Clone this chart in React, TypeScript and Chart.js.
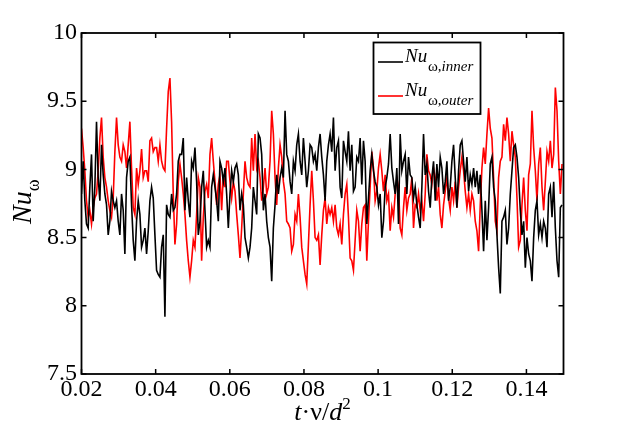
import { useEffect, useRef } from 'react';
import { Chart, registerables } from 'chart.js';

Chart.register(...registerables);

// sampling of the signal: t = T_START + i * T_STEP
const T_START = 0.02;
const T_STEP = 0.00045;

// Nu_ω at the inner wall (black)
const nuInner = [
  8.82, 9.06, 8.77, 8.60, 8.57, 8.87, 9.11, 8.62, 8.87, 9.35, 8.94, 8.77, 9.18, 8.96, 8.82, 8.74,
  8.52, 8.62, 8.84, 8.77, 8.72, 8.77, 8.62, 8.52, 8.82, 8.70, 8.38, 8.94, 9.06, 9.09, 8.74, 8.48,
  8.33, 8.62, 8.77, 8.67, 8.43, 8.48, 8.57, 8.38, 8.55, 8.77, 8.87, 8.79, 8.52, 8.26, 8.23,
  8.21, 8.43, 8.52, 7.92, 8.74, 8.67, 8.65, 8.82, 8.70, 8.72, 8.82, 9.06, 9.11, 9.11, 9.23, 8.70,
  8.94, 8.77, 8.65, 9.06, 9.01, 9.16, 8.91, 8.52, 8.62, 8.87, 8.99, 8.70, 8.43, 8.48, 8.43, 8.87,
  8.96, 8.87, 8.77, 8.62, 9.06, 9.01, 8.91, 9.01, 8.82, 8.57, 8.82, 8.99, 8.91, 9.01, 9.04, 8.96,
  8.70, 8.82, 8.74, 8.50, 8.43, 8.35, 8.43, 8.57, 8.87, 8.77, 8.67, 9.26, 9.23, 9.11, 8.70, 8.82,
  8.62, 8.50, 8.43, 8.18, 8.57, 8.74, 8.96, 8.82, 8.94, 9.01, 8.94, 9.43, 9.11, 9.06, 8.91, 8.82,
  9.06, 8.99, 9.18, 9.26, 9.06, 8.96, 9.23, 9.06, 8.87, 8.99, 9.18, 9.16, 9.06, 9.11, 8.99, 9.16,
  9.26, 9.09, 8.96, 8.77, 9.06, 9.18, 9.26, 9.13, 9.38, 8.99, 9.16, 9.21, 8.87, 8.79, 9.21, 9.13,
  9.06, 9.28, 8.99, 9.18, 8.84, 8.87, 9.09, 9.06, 9.23, 8.89, 9.21, 9.06, 8.60, 8.79, 8.99, 9.11,
  8.99, 8.91, 8.87, 8.74, 8.82, 8.50, 8.62, 8.87, 8.94, 9.04, 9.26, 9.01, 8.91, 8.82, 9.01, 8.60,
  9.26, 8.99, 9.06, 9.11, 8.82, 9.09, 8.96, 8.94, 8.79, 8.87, 8.74, 8.65, 8.57, 8.87, 9.26, 8.96,
  9.04, 8.84, 8.72, 8.94, 9.06, 8.77, 9.04, 8.87, 9.09, 9.01, 8.82, 8.91, 9.06, 8.77, 8.87, 9.06,
  9.18, 8.94, 8.72, 8.99, 9.18, 9.21, 9.06, 8.91, 9.09, 8.84, 8.96, 8.89, 9.01, 8.87, 8.99, 8.82,
  8.96, 8.70, 8.40, 8.77, 8.48, 8.72, 9.04, 9.09, 8.87, 8.77, 8.52, 8.28, 8.09, 8.62, 8.65, 8.70,
  8.45, 8.57, 8.82, 8.99, 9.16, 9.18, 9.09, 8.94, 8.70, 8.52, 8.62, 8.28, 8.50, 8.38, 8.33, 8.18,
  8.50, 8.70, 8.77, 8.52, 8.60, 8.50, 8.62, 8.57, 8.43, 8.82, 8.87, 8.65, 8.91, 8.57, 8.33, 8.21,
  8.72, 8.74,
];

// Nu_ω at the outer wall (red)
const nuOuter = [
  9.30, 9.16, 8.99, 8.77, 8.65, 8.70, 8.60, 8.72, 8.79, 8.82, 8.99, 9.23, 9.38, 9.09, 8.94, 8.87,
  8.77, 8.70, 8.65, 8.79, 9.13, 9.38, 9.18, 9.09, 9.06, 9.18, 9.13, 9.01, 9.18, 9.35, 9.01, 8.72,
  8.67, 9.01, 8.89, 8.99, 9.15, 8.94, 8.99, 8.99, 8.91, 9.21, 9.23, 9.13, 9.16, 9.16, 9.06,
  9.18, 9.06, 9.01, 8.99, 9.30, 9.57, 9.67, 9.35, 8.82, 8.45, 8.60, 8.91, 9.04, 8.94, 8.82, 8.67,
  8.48, 8.33, 8.21, 8.33, 8.48, 8.43, 8.67, 8.94, 8.87, 8.33, 8.65, 8.84, 8.89, 8.79, 9.11, 9.23,
  9.06, 8.91, 8.74, 8.89, 8.96, 8.70, 8.96, 8.87, 9.06, 9.06, 8.91, 8.79, 8.91, 8.84, 8.67, 8.52,
  8.35, 8.57, 8.82, 9.06, 8.94, 8.89, 8.87, 9.23, 8.99, 9.26, 9.01, 9.06, 8.94, 8.77, 8.87, 9.01,
  8.82, 8.87, 9.06, 9.43, 9.26, 8.94, 8.74, 9.01, 9.18, 9.09, 8.91, 8.82, 8.62, 8.60, 8.57, 8.40,
  8.45, 8.67, 8.62, 8.82, 8.65, 8.43, 8.33, 8.23, 8.16, 8.45, 8.74, 8.99, 8.77, 8.50, 8.48, 8.52,
  8.30, 8.52, 8.70, 8.79, 8.60, 8.72, 8.67, 8.72, 8.62, 8.74, 8.57, 8.52, 8.60, 8.45, 8.67, 8.82,
  8.89, 8.65, 8.35, 8.33, 8.26, 8.48, 8.70, 8.62, 8.40, 8.60, 8.72, 8.74, 8.33, 8.62, 8.87, 9.13,
  9.01, 8.77, 8.84, 9.01, 9.11, 8.99, 8.84, 8.96, 8.77, 8.82, 8.55, 8.72, 8.65, 8.82, 8.94, 8.87,
  8.57, 8.52, 8.72, 8.87, 8.70, 8.79, 8.82, 8.94, 8.57, 8.74, 8.72, 8.82, 8.70, 8.77, 8.62, 8.82,
  9.11, 8.99, 8.96, 8.89, 9.01, 8.94, 8.77, 8.87, 8.67, 8.57, 8.74, 8.84, 8.94, 8.79, 8.70, 8.87,
  8.77, 8.91, 8.72, 8.87, 8.99, 9.09, 8.99, 8.84, 8.72, 8.82, 8.70, 8.82, 8.77, 8.62, 8.55, 8.40,
  8.74, 9.01, 9.16, 9.04, 9.26, 9.45, 9.30, 9.23, 8.94, 8.62, 8.55, 8.94, 9.06, 9.09, 9.33, 9.21,
  9.38, 9.26, 9.06, 9.28, 9.18, 9.09, 8.79, 8.43, 8.48, 8.74, 8.94, 8.70, 8.55, 8.96, 9.04, 9.43,
  9.16, 8.99, 8.77, 9.04, 9.16, 8.87, 8.70, 8.91, 9.13, 9.06, 9.21, 9.01, 9.11, 9.60, 9.43, 9.06,
  8.82, 9.04,
];

const xTicks = [0.02, 0.04, 0.06, 0.08, 0.1, 0.12, 0.14];
const xTickLabels = ['0.02', '0.04', '0.06', '0.08', '0.1', '0.12', '0.14'];
const yTicks = [7.5, 8, 8.5, 9, 9.5, 10];
const yTickLabels = ['7.5', '8', '8.5', '9', '9.5', '10'];

const seriesSubs = ['inner', 'outer'];
const seriesColors = ['#000000', '#ff0000'];

const SERIF = "'Liberation Serif', 'Times New Roman', serif";
const TICK_LEN = 5;

// draws text pieces one after another from x, returns the end x
function drawRun(ctx: CanvasRenderingContext2D, parts: [string, string, number][], x: number, y: number) {
  let cx = x;
  parts.forEach(([text, font, dy]) => {
    ctx.font = font;
    ctx.fillText(text, cx, y + dy);
    cx += ctx.measureText(text).width;
  });
  return cx;
}

const matlabFrame = {
  id: 'matlabFrame',
  afterDatasetsDraw(chart: any) {
    const { ctx, chartArea: a, scales } = chart;
    const sx = scales.x;
    const sy = scales.y;
    ctx.save();

    // axes box with inward ticks on every side
    ctx.strokeStyle = '#000';
    ctx.lineWidth = 1.8;
    ctx.strokeRect(a.left, a.top, a.right - a.left, a.bottom - a.top);
    ctx.lineWidth = 1.5;
    ctx.beginPath();
    xTicks.forEach((v) => {
      const px = sx.getPixelForValue(v);
      ctx.moveTo(px, a.bottom);
      ctx.lineTo(px, a.bottom - TICK_LEN);
      ctx.moveTo(px, a.top);
      ctx.lineTo(px, a.top + TICK_LEN);
    });
    yTicks.forEach((v) => {
      const py = sy.getPixelForValue(v);
      ctx.moveTo(a.left, py);
      ctx.lineTo(a.left + TICK_LEN, py);
      ctx.moveTo(a.right, py);
      ctx.lineTo(a.right - TICK_LEN, py);
    });
    ctx.stroke();

    // legend
    const lx = a.right - 190;
    const ly = a.top + 9.5;
    ctx.fillStyle = '#fff';
    ctx.fillRect(lx, ly, 107, 71.5);
    ctx.lineWidth = 1.8;
    ctx.strokeRect(lx, ly, 107, 71.5);
    ctx.lineWidth = 1.6;
    ctx.textBaseline = 'alphabetic';
    ctx.textAlign = 'left';
    seriesSubs.forEach((sub, i) => {
      const rowY = ly + 19.5 + i * 34;
      ctx.strokeStyle = seriesColors[i];
      ctx.beginPath();
      ctx.moveTo(lx + 4.5, rowY);
      ctx.lineTo(lx + 29.5, rowY);
      ctx.stroke();
      ctx.fillStyle = '#000';
      ctx.font = `italic 19px ${SERIF}`;
      ctx.fillText('Nu', lx + 31.5, rowY - 0.5);
      drawRun(ctx, [
        ['ω,', `15px ${SERIF}`, 0],
        [sub, `italic 15px ${SERIF}`, 0],
      ], lx + 54.5, rowY + 8.5);
    });

    // y axis title, rotated
    ctx.fillStyle = '#000';
    ctx.save();
    ctx.translate(31, 224);
    ctx.rotate(-Math.PI / 2);
    drawRun(ctx, [
      ['Nu', `italic 28px ${SERIF}`, 0],
      ['ω', `18px ${SERIF}`, 8],
    ], 0, 0);
    ctx.restore();

    // x axis title
    const xParts: [string, string, number][] = [
      ['t', `italic 26px ${SERIF}`, 0],
      ['·', `26px ${SERIF}`, 0],
      ['ν', `26px ${SERIF}`, 0],
      ['/', `26px ${SERIF}`, 0],
      ['d', `italic 26px ${SERIF}`, 0],
      ['2', `17px ${SERIF}`, -11],
    ];
    let w = 0;
    xParts.forEach(([t, f]) => {
      ctx.font = f;
      w += ctx.measureText(t).width;
    });
    drawRun(ctx, xParts, (a.left + a.right) / 2 - w / 2, 420);

    ctx.restore();
  },
};

export default function App() {
  const canvasRef = useRef<HTMLCanvasElement>(null);
  const chartRef = useRef<Chart | null>(null);

  useEffect(() => {
    if (!canvasRef.current) return;
    if (chartRef.current) chartRef.current.destroy();

    const toPoints = (vals: number[]) => vals.map((v, i) => ({ x: T_START + i * T_STEP, y: v }));

    chartRef.current = new Chart(canvasRef.current, {
      type: 'line',
      data: {
        datasets: [
          {
            data: toPoints(nuInner),
            borderColor: seriesColors[0],
            borderWidth: 1.6,
            pointRadius: 0,
            tension: 0,
          },
          {
            data: toPoints(nuOuter),
            borderColor: seriesColors[1],
            borderWidth: 1.6,
            pointRadius: 0,
            tension: 0,
          },
        ],
      },
      options: {
        responsive: false,
        animation: false,
        layout: { padding: { top: 33, right: 59.5, left: 0, bottom: 0 } },
        plugins: { legend: { display: false }, tooltip: { enabled: false } },
        scales: {
          x: {
            type: 'linear',
            min: 0.02,
            max: 0.15,
            grid: { display: false, drawTicks: false },
            border: { display: false },
            afterBuildTicks: (scale: any) => {
              scale.ticks = xTicks.map((v) => ({ value: v }));
            },
            afterFit: (scale: any) => {
              scale.height = 57;
            },
            ticks: {
              autoSkip: false,
              maxRotation: 0,
              padding: 1,
              color: '#000',
              font: { family: SERIF, size: 24 },
              callback: (_v: any, i: number) => xTickLabels[i],
            },
          },
          y: {
            type: 'linear',
            min: 7.5,
            max: 10,
            grid: { display: false, drawTicks: false },
            border: { display: false },
            afterBuildTicks: (scale: any) => {
              scale.ticks = yTicks.map((v) => ({ value: v }));
            },
            afterFit: (scale: any) => {
              scale.width = 81.5;
            },
            ticks: {
              autoSkip: false,
              padding: 4.5,
              color: '#000',
              font: { family: SERIF, size: 24 },
              callback: (_v: any, i: number) => yTickLabels[i],
            },
          },
        },
      },
      plugins: [matlabFrame],
    });

    return () => {
      if (chartRef.current) {
        chartRef.current.destroy();
        chartRef.current = null;
      }
    };
  }, []);

  return (
    <div style={{ position: 'fixed', left: 0, top: 0, width: 623, height: 431, background: '#fff' }}>
      <canvas ref={canvasRef} width={623} height={431} style={{ display: 'block' }}></canvas>
    </div>
  );
}
